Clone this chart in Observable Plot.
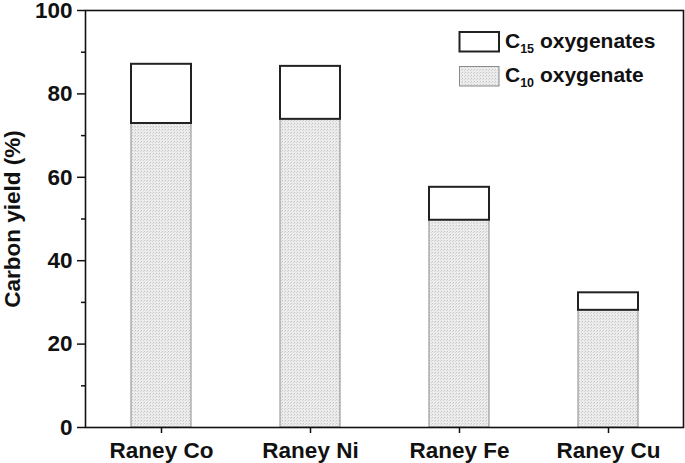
<!DOCTYPE html>
<html>
<head>
<meta charset="utf-8">
<script src="https://cdn.jsdelivr.net/npm/d3@7"></script>
<script src="https://cdn.jsdelivr.net/npm/@observablehq/plot@0.6"></script>
<style>
  html, body { margin: 0; padding: 0; background: #fff; }
  #chart svg { display: block; }
</style>
</head>
<body>
<div id="chart"></div>
<script>
const categories = ["Raney Co", "Raney Ni", "Raney Fe", "Raney Cu"];
const c10Values = [72.9, 73.9, 49.7, 28.1];
const c15Values = [14.2, 12.7, 7.9, 4.2];
const yMajorTicks = [0, 20, 40, 60, 80, 100];
const yMinorTicks = [10, 30, 50, 70, 90];
const yTitle = "Carbon yield (%)";

const rows = categories.map((cat, i) => ({
  cat,
  c10: c10Values[i],
  top: c10Values[i] + c15Values[i]
}));

const font = "'Liberation Sans', Arial, Helvetica, sans-serif";

const plot = Plot.plot({
  width: 685,
  height: 463,
  marginLeft: 85,
  marginRight: 2,
  marginTop: 10,
  marginBottom: 36,
  style: { fontFamily: font, background: "#fff", color: "#111" },
  x: { domain: categories, paddingInner: 0.6, paddingOuter: 0.3, axis: null },
  y: { domain: [0, 100], axis: null },
  marks: [
    Plot.barY(rows, { x: "cat", y1: 0, y2: "c10", fill: "url(#dotfill)", stroke: "#8a8a8a", strokeWidth: 1 }),
    Plot.barY(rows, { x: "cat", y1: "c10", y2: "top", fill: "#fff", stroke: "#222", strokeWidth: 2 }),
    Plot.frame({ stroke: "#111", strokeWidth: 1.6 }),
    Plot.axisY({ ticks: yMajorTicks, tickSize: 8, tickPadding: 5, tickFormat: d => String(d), fontSize: 22.5, fontWeight: "bold", label: null, strokeWidth: 1.5 }),
    Plot.axisY({ ticks: yMinorTicks, tickSize: 4, text: null, label: null, strokeWidth: 1.5 }),
    Plot.axisX({ tickSize: 6, tickPadding: 9, fontSize: 22.5, fontWeight: "bold", label: null, strokeWidth: 1.5 }),
    Plot.text([yTitle], { text: d => d, frameAnchor: "left", textAnchor: "middle", rotate: -90, dx: -73, dy: 0, fontSize: 22.5, fontWeight: "bold", fill: "#111" })
  ]
});

// pattern definition for the dotted grey fill
const svg = d3.select(plot);
const defs = svg.insert("defs", ":first-child");
const pat = defs.append("pattern").attr("id", "dotfill").attr("patternUnits", "userSpaceOnUse").attr("width", 3).attr("height", 3);
pat.append("rect").attr("width", 3).attr("height", 3).attr("fill", "#ececec");
pat.append("rect").attr("width", 1).attr("height", 1).attr("fill", "#c4c4c4");
pat.append("rect").attr("x", 2).attr("y", 1).attr("width", 1).attr("height", 1).attr("fill", "#d4d4d4");

// legend inside plot, top right
const legendItems = [
  { sub: "15", rest: " oxygenates", fill: "#fff", stroke: "#222", sw: 2 },
  { sub: "10", rest: " oxygenate", fill: "url(#dotfill)", stroke: "#8a8a8a", sw: 1 }
];
const lg = svg.append("g").attr("font-family", font).attr("font-weight", "bold")
  .attr("fill", "#111").attr("text-anchor", "start");
legendItems.forEach((it, i) => {
  const y0 = 32 + i * 34.5;
  lg.append("rect").attr("x", 459.5).attr("y", y0).attr("width", 39.5).attr("height", 19.5)
    .attr("fill", it.fill).attr("stroke", it.stroke).attr("stroke-width", it.sw);
  const t = lg.append("text").attr("x", 505).attr("y", y0 + 15.5).attr("font-size", 21).attr("text-anchor", "start");
  t.append("tspan").text("C");
  t.append("tspan").attr("font-size", 12.5).attr("dy", 5).text(it.sub);
  t.append("tspan").attr("dy", -5).text(it.rest);
});

document.getElementById("chart").appendChild(plot);
</script>
</body>
</html>
